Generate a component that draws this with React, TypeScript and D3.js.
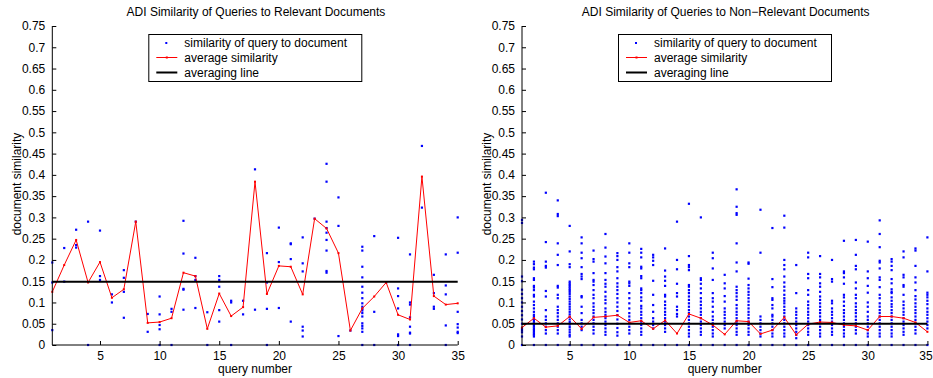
import React from "react";
import * as d3 from "d3";

// query numbers on the x axis
const queryNumbers = [1, 2, 3, 4, 5, 6, 7, 8, 9, 10, 11, 12, 13, 14, 15, 16, 17, 18, 19, 20, 21, 22, 23, 24, 25, 26, 27, 28, 29, 30, 31, 32, 33, 34, 35];
const xTicks = [5, 10, 15, 20, 25, 30, 35];
const yTicks = [0, 0.05, 0.1, 0.15, 0.2, 0.25, 0.3, 0.35, 0.4, 0.45, 0.5, 0.55, 0.6, 0.65, 0.7, 0.75];
const legendLabels = ["similarity of query to document", "average similarity", "averaging line"];

// relevant documents
const relevantAvg = [0.125, 0.188, 0.247, 0.147, 0.195, 0.111, 0.131, 0.29, 0.052, 0.054, 0.063, 0.17, 0.162, 0.038, 0.121, 0.068, 0.089, 0.384, 0.12, 0.186, 0.184, 0.119, 0.297, 0.274, 0.216, 0.034, 0.086, 0.114, 0.147, 0.071, 0.06, 0.396, 0.115, 0.095, 0.098];
const relevantLine = 0.149;
const relevantSims = [
    [0.194, 0.147, 0.035],
    [0.228, 0.149],
    [0.271, 0.235, 0.229],
    [0.29, 0],
    [0.269, 0.162, 0.153],
    [0.119, 0.1],
    [0.176, 0.158, 0.125, 0.064],
    [0.29],
    [0.073, 0.031],
    [0.114, 0.072, 0.047, 0.037, 0],
    [0.085, 0.078, 0],
    [0.292, 0.215, 0.132, 0.13, 0.083],
    [0.205, 0.162, 0.153, 0.087],
    [0.077, 0],
    [0.162, 0.153, 0.137, 0.082, 0.055],
    [0.104, 0.1, 0],
    [0.104, 0.072],
    [0.413, 0.083],
    [0.216, 0.147, 0.085, 0],
    [0.276, 0.195, 0.087],
    [0.239, 0.237, 0.202, 0.055],
    [0.253, 0.192, 0.173, 0.043, 0.034, 0.02],
    [0.297],
    [0.426, 0.384, 0.29, 0.275, 0.264, 0.247, 0.222, 0.174, 0.17],
    [0.347, 0.28, 0.021],
    [0.034],
    [0.231, 0.222, 0.184, 0.159, 0.137, 0.123, 0.11, 0.098, 0.09, 0.085, 0.081, 0.075, 0.067, 0.051, 0.045, 0.039, 0.031, 0],
    [0.256, 0.078, 0],
    [0.147],
    [0.252, 0.133, 0.115, 0.086, 0.025, 0.021, 0],
    [0.213, 0.1, 0.095, 0.065, 0.043, 0.029, 0.027, 0],
    [0.468, 0.323],
    [0.165, 0.122, 0.09, 0.085],
    [0.213, 0.14, 0.119, 0.046, 0],
    [0.3, 0.217, 0.078, 0.049, 0.041, 0.031, 0.028],
];

// non-relevant documents
const nonRelevantAvg = [0.041, 0.063, 0.042, 0.045, 0.067, 0.038, 0.065, 0.067, 0.07, 0.053, 0.057, 0.038, 0.058, 0.027, 0.073, 0.063, 0.047, 0.025, 0.057, 0.055, 0.026, 0.035, 0.065, 0.024, 0.049, 0.054, 0.053, 0.047, 0.045, 0.035, 0.067, 0.067, 0.063, 0.053, 0.031];
const nonRelevantLine = 0.05;
const nonRelevantSims = [
    [0.294, 0.287, 0.161, 0.15, 0.13, 0.12, 0.11, 0.1, 0.09, 0.08, 0.07, 0.06, 0.05, 0.04, 0.035, 0.03, 0.02, 0],
    [0.196, 0.19, 0.182, 0.178, 0.157, 0.153, 0.139, 0.135, 0.129, 0.118, 0.114, 0.102, 0.094, 0.086, 0.078, 0.071, 0.067, 0.063, 0.059, 0.055, 0.051, 0.047, 0.043, 0.039, 0.035, 0.031, 0.027, 0.024, 0.02, 0],
    [0.358, 0.242, 0.196, 0.186, 0.182, 0.127, 0.114, 0.082, 0.067, 0.059, 0.051, 0.043, 0.035, 0.027, 0],
    [0.34, 0.308, 0.303, 0.239, 0.212, 0.188, 0.139, 0.135, 0.118, 0.11, 0.09, 0.082, 0.075, 0.067, 0.059, 0.051, 0.043, 0.035, 0.027, 0],
    [0.28, 0.22, 0.19, 0.183, 0.149, 0.145, 0.141, 0.137, 0.133, 0.129, 0.125, 0.12, 0.114, 0.108, 0.102, 0.096, 0.09, 0.084, 0.078, 0.072, 0.066, 0.06, 0.054, 0.048, 0.042, 0.036, 0.03, 0.024, 0.02, 0],
    [0.253, 0.239, 0.217, 0.204, 0.183, 0.167, 0.161, 0.155, 0.115, 0.112, 0.09, 0.075, 0.059, 0.051, 0.043, 0.035, 0],
    [0.222, 0.202, 0.196, 0.169, 0.153, 0.149, 0.141, 0.129, 0.118, 0.11, 0.098, 0.09, 0.082, 0.075, 0.067, 0.059, 0.051, 0.043, 0.035, 0.027, 0],
    [0.261, 0.229, 0.208, 0.192, 0.169, 0.153, 0.144, 0.137, 0.125, 0.114, 0.106, 0.098, 0.086, 0.078, 0.071, 0.063, 0.055, 0.047, 0.039, 0.031, 0.024, 0],
    [0.216, 0.209, 0.2, 0.183, 0.173, 0.157, 0.145, 0.137, 0.129, 0.12, 0.11, 0.1, 0.09, 0.08, 0.07, 0.06, 0.05, 0.04, 0.03, 0.022, 0],
    [0.239, 0.217, 0.192, 0.183, 0.149, 0.145, 0.139, 0.122, 0.11, 0.098, 0.086, 0.075, 0.067, 0.059, 0.051, 0.043, 0.035, 0.027, 0],
    [0.226, 0.217, 0.206, 0.184, 0.18, 0.162, 0.157, 0.133, 0.129, 0.122, 0.112, 0.104, 0.092, 0.086, 0.078, 0.071, 0.063, 0.055, 0.047, 0.039, 0.031, 0.024, 0],
    [0.212, 0.206, 0.198, 0.188, 0.151, 0.118, 0.094, 0.078, 0.063, 0.055, 0.047, 0.039, 0],
    [0.227, 0.175, 0.161, 0.151, 0.139, 0.118, 0.114, 0.102, 0.094, 0.086, 0.078, 0.071, 0.063, 0.055, 0.047, 0.039, 0.031, 0],
    [0.29, 0.2, 0.178, 0.144, 0.122, 0.114, 0.09, 0.082, 0.073, 0.067, 0],
    [0.332, 0.209, 0.188, 0.183, 0.176, 0.141, 0.137, 0.129, 0.122, 0.114, 0.106, 0.098, 0.09, 0.082, 0.075, 0.067, 0.059, 0.051, 0.043, 0.035, 0.027, 0.02, 0],
    [0.3, 0.157, 0.153, 0.144, 0.133, 0.122, 0.11, 0.102, 0.094, 0.086, 0.078, 0.071, 0.063, 0.055, 0.047, 0.039, 0.031, 0.024, 0],
    [0.217, 0.204, 0.18, 0.153, 0.122, 0.11, 0.102, 0.09, 0.078, 0.067, 0.059, 0.051, 0.043, 0.035, 0.027, 0.02, 0],
    [0.165, 0.145, 0.133, 0.115, 0.102, 0.086, 0.078, 0.071, 0.063, 0.055, 0.047, 0.039, 0],
    [0.366, 0.325, 0.31, 0.306, 0.239, 0.194, 0.173, 0.137, 0.129, 0.122, 0.114, 0.106, 0.094, 0.086, 0.078, 0.071, 0.063, 0.055, 0.047, 0.039, 0.031, 0.024, 0],
    [0.194, 0.191, 0.156, 0.141, 0.133, 0.125, 0.118, 0.11, 0.102, 0.094, 0.086, 0.078, 0.071, 0.063, 0.055, 0.047, 0.039, 0.031, 0.024, 0],
    [0.318, 0.217, 0.067, 0.059, 0.051, 0.043, 0.035, 0.027, 0.02, 0],
    [0.275, 0.155, 0.136, 0.11, 0.106, 0.094, 0.086, 0.071, 0.067, 0.059, 0.051, 0.043, 0.035, 0.027, 0.02, 0],
    [0.304, 0.276, 0.2, 0.188, 0.178, 0.161, 0.147, 0.137, 0.128, 0.118, 0.11, 0.104, 0.098, 0.09, 0.082, 0.075, 0.067, 0.059, 0.051, 0.043, 0.035, 0.027, 0.02, 0],
    [0.188, 0.122, 0.086, 0.078, 0.071, 0.063, 0.055, 0.047, 0.039, 0.031, 0.024, 0.016, 0],
    [0.217, 0.206, 0.167, 0.157, 0.129, 0.118, 0.102, 0.094, 0.086, 0.078, 0.071, 0.063, 0.055, 0.047, 0.039, 0.031, 0.024, 0],
    [0.209, 0.167, 0.159, 0.145, 0.137, 0.125, 0.114, 0.106, 0.098, 0.09, 0.082, 0.075, 0.067, 0.059, 0.051, 0.043, 0.035, 0.027, 0.02, 0],
    [0.2, 0.155, 0.149, 0.104, 0.098, 0.086, 0.078, 0.071, 0.063, 0.055, 0.047, 0.039, 0.031, 0.024, 0],
    [0.245, 0.173, 0.169, 0.159, 0.144, 0.118, 0.112, 0.102, 0.092, 0.082, 0.075, 0.067, 0.059, 0.051, 0.043, 0.035, 0.027, 0.02, 0],
    [0.247, 0.212, 0.186, 0.178, 0.147, 0.133, 0.118, 0.11, 0.098, 0.09, 0.082, 0.075, 0.067, 0.059, 0.051, 0.043, 0.035, 0.027, 0],
    [0.243, 0.173, 0.157, 0.139, 0.123, 0.1, 0.09, 0.078, 0.067, 0.059, 0.051, 0.043, 0.035, 0.027, 0.02, 0],
    [0.293, 0.261, 0.23, 0.198, 0.194, 0.18, 0.159, 0.153, 0.136, 0.118, 0.11, 0.098, 0.09, 0.082, 0.075, 0.067, 0.059, 0.051, 0.043, 0.035, 0.027, 0.02, 0],
    [0.202, 0.196, 0.186, 0.176, 0.155, 0.145, 0.131, 0.125, 0.122, 0.112, 0.104, 0.096, 0.09, 0.082, 0.075, 0.067, 0.059, 0.051, 0.043, 0.035, 0.027, 0.02, 0],
    [0.22, 0.206, 0.165, 0.159, 0.141, 0.137, 0.118, 0.102, 0.094, 0.086, 0.078, 0.071, 0.063, 0.055, 0.047, 0.039, 0.031, 0.024, 0],
    [0.227, 0.222, 0.186, 0.159, 0.147, 0.129, 0.115, 0.107, 0.098, 0.09, 0.082, 0.075, 0.067, 0.059, 0.051, 0.043, 0.035, 0.027, 0],
    [0.253, 0.173, 0.123, 0.118, 0.112, 0.104, 0.096, 0.086, 0.078, 0.071, 0.063, 0.055, 0.047, 0.039, 0],
];

const FONT = "'Liberation Sans', Arial, Helvetica, sans-serif";

function drawPanel(root, left, title, sims, avg, avgLine) {
    const x = d3.scaleLinear().domain([1, 35]).range([left, left + 405.4]);
    const y = d3.scaleLinear().domain([0, 0.75]).range([345, 26]);
    const g = root.append("g");

    // scatter of individual similarities
    const pts = [];
    sims.forEach((col, i) => col.forEach((v) => pts.push([queryNumbers[i], v])));
    g.selectAll("rect.pt")
        .data(pts)
        .enter()
        .append("rect")
        .attr("class", "pt")
        .attr("x", (d) => x(d[0]) - 1.1)
        .attr("y", (d) => y(d[1]) - 1.1)
        .attr("width", 2.2)
        .attr("height", 2.2)
        .attr("fill", "#0000ff");

    // average line
    const line = d3.line().x((d, i) => x(queryNumbers[i])).y((d) => y(d));
    g.append("path")
        .attr("d", line(avg))
        .attr("fill", "none")
        .attr("stroke", "#ff0000")
        .attr("stroke-width", 1);
    g.selectAll("rect.avg")
        .data(avg)
        .enter()
        .append("rect")
        .attr("class", "avg")
        .attr("x", (d, i) => x(queryNumbers[i]) - 1)
        .attr("y", (d) => y(d) - 1)
        .attr("width", 2)
        .attr("height", 2)
        .attr("fill", "#ff0000");

    // averaging line
    g.append("line")
        .attr("x1", x(1))
        .attr("x2", x(35))
        .attr("y1", y(avgLine))
        .attr("y2", y(avgLine))
        .attr("stroke", "#000")
        .attr("stroke-width", 2);

    // axes (ticks inward, MATLAB style)
    const yAxis = d3.axisLeft(y).tickValues(yTicks).tickSize(-4).tickPadding(7).tickFormat((d) => String(+(+d).toFixed(2)));
    const ya = g.append("g").attr("transform", `translate(${left},0)`).call(yAxis);
    const xAxis = d3.axisBottom(x).tickValues(xTicks).tickSize(-4).tickPadding(6).tickFormat((d) => String(d));
    const xa = g.append("g").attr("transform", "translate(0,345)").call(xAxis);
    [ya, xa].forEach((a) => {
        a.select(".domain").attr("stroke", "#000");
        a.selectAll("text").attr("font-family", FONT).attr("font-size", 12).attr("fill", "#000");
        a.selectAll("line").attr("stroke", "#000");
    });
    ya.select(".domain").attr("d", "M0,345V26");
    xa.select(".domain").attr("d", `M${x(1)},0H${x(35)}`);
    // keep the last label inside the page
    xa.selectAll("text").attr("dx", (d) => (x(d) + 7 > 932.5 ? 932.5 - x(d) - 7 : 0));

    // labels
    g.append("text")
        .attr("x", (x(1) + x(35)) / 2 + 1)
        .attr("y", 15.5)
        .attr("text-anchor", "middle")
        .attr("font-family", FONT)
        .attr("font-size", 12)
        .text(title);
    g.append("text")
        .attr("x", (x(1) + x(35)) / 2)
        .attr("y", 372.5)
        .attr("text-anchor", "middle")
        .attr("font-family", FONT)
        .attr("font-size", 12)
        .text("query number");
    g.append("text")
        .attr("transform", `translate(${left - 31.5},184) rotate(-90)`)
        .attr("text-anchor", "middle")
        .attr("font-family", FONT)
        .attr("font-size", 12)
        .text("document similarity");

    // legend
    const lx = left + 96;
    const lg = g.append("g").attr("transform", `translate(${lx},34)`);
    lg.append("rect").attr("x", 0.5).attr("y", 0.5).attr("width", 213).attr("height", 47).attr("fill", "#fff").attr("stroke", "#000");
    const rowsY = [9, 23.5, 38.5];
    legendLabels.forEach((lab, i) => {
        lg.append("text")
            .attr("x", 36)
            .attr("y", rowsY[i] + 4.3)
            .attr("font-family", FONT)
            .attr("font-size", 12)
            .text(lab);
    });
    lg.append("rect").attr("x", 17).attr("y", rowsY[0] - 1).attr("width", 2).attr("height", 2).attr("fill", "#0000ff");
    lg.append("line").attr("x1", 8).attr("x2", 29).attr("y1", rowsY[1]).attr("y2", rowsY[1]).attr("stroke", "#ff0000");
    lg.append("rect").attr("x", 17.5).attr("y", rowsY[1] - 1).attr("width", 2).attr("height", 2).attr("fill", "#ff0000");
    lg.append("line").attr("x1", 8).attr("x2", 29).attr("y1", rowsY[2]).attr("y2", rowsY[2]).attr("stroke", "#000").attr("stroke-width", 2);
}

export default function App() {
    const ref = React.useRef(null);

    React.useEffect(() => {
        const svg = d3.select(ref.current);
        svg.selectAll("*").remove();
        drawPanel(svg, 52.3, "ADI Similarity of Queries to Relevant Documents", relevantSims, relevantAvg, relevantLine);
        drawPanel(svg, 522, "ADI Similarity of Queries to Non\u2212Relevant Documents", nonRelevantSims, nonRelevantAvg, nonRelevantLine);
    }, []);

    return (
        <svg
            ref={ref}
            width={933}
            height={378}
            style={{ position: "absolute", left: 0, top: 0, background: "#fff" }}
        />
    );
}
